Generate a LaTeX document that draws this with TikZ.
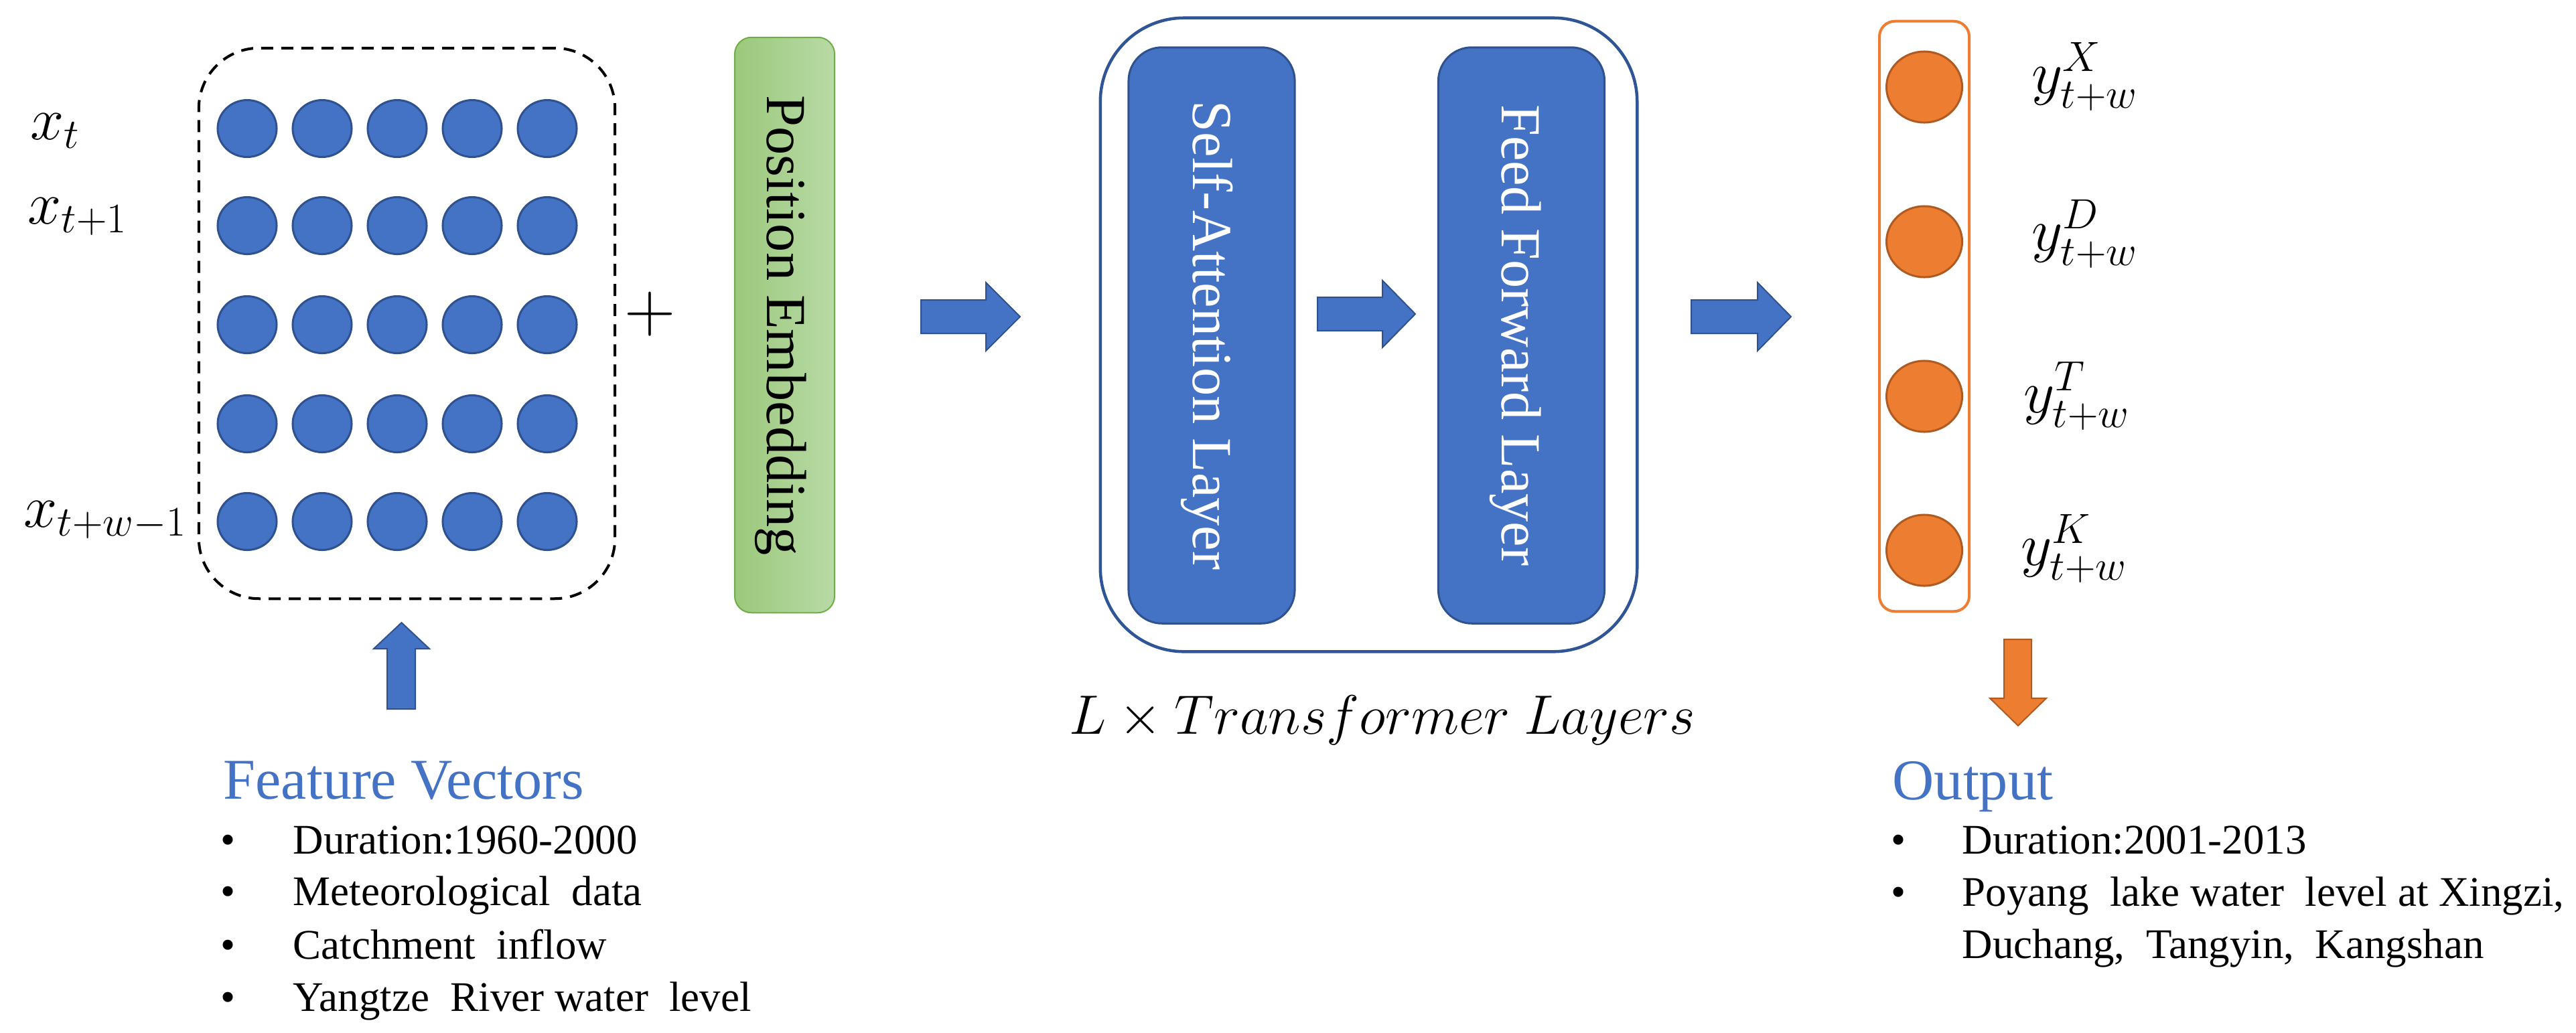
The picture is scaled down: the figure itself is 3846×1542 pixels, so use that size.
\RequirePackage{fix-cm}
\documentclass[tikz,border=0pt]{standalone}
\usepackage{fontspec}
\setmainfont{Liberation Serif}
\usetikzlibrary{shapes.geometric}
\definecolor{blueF}{HTML}{4472C4}
\definecolor{blueD}{HTML}{2F528F}
\definecolor{blueO}{HTML}{2F5597}
\definecolor{orF}{HTML}{ED7D31}
\definecolor{orD}{HTML}{AE5A21}
\definecolor{grL}{RGB}{156,200,124}
\definecolor{grR}{RGB}{184,218,166}
\definecolor{grD}{HTML}{70AD47}
\begin{document}
\begin{tikzpicture}[x=0.01cm,y=-0.01cm,
  bdot/.style={ellipse,draw=blueD,fill=blueF,line width=0.03cm,minimum width=0.88cm,minimum height=0.85cm,inner sep=0},
  odot/.style={ellipse,draw=orD,fill=orF,line width=0.03cm,minimum width=1.13cm,minimum height=1.06cm,inner sep=0},
  layerbox/.style={draw=blueD,fill=blueF,line width=0.03cm,rounded corners=0.5cm,minimum width=2.48cm,minimum height=8.6cm,inner sep=0},
  vtext/.style={rotate=-90,anchor=base,inner sep=0,font=\fontsize{24pt}{28pt}\selectfont},
  mlab/.style={anchor=base west,inner sep=0,font=\fontsize{25.6pt}{30pt}\selectfont},
  ttl/.style={anchor=base west,inner sep=0,text=blueF,font=\fontsize{24.5pt}{29pt}\selectfont},
  itm/.style={anchor=base west,inner sep=0,font=\fontsize{17.9pt}{21pt}\selectfont},
  bul/.style={anchor=base,inner sep=0,font=\fontsize{17.9pt}{21pt}\selectfont},
  barrow/.style={fill=blueF,draw=blueD,line width=0.02cm},
  oarrow/.style={fill=orF,draw=orD,line width=0.02cm},
]
\useasboundingbox (0,0) rectangle (3846,1542);

% input matrix
\node[draw=black,line width=0.04cm,dash pattern=on 0.18cm off 0.12cm,rounded corners=0.9cm,
      minimum width=6.21cm,minimum height=8.22cm,inner sep=0] (inbox) at (607.5,483) {};
\foreach \r/\yy in {1/192,2/337,3/485,4/633,5/779}
  \foreach \c/\xx in {1/369,2/481,3/593,4/705,5/817}
    \node[bdot] (b\r\c) at (\xx,\yy) {};

\node[mlab] (xt) at (45,208) {$x_t$};
\node[mlab] (xt1) at (41,334) {$x_{t+1}$};
\node[mlab] (xtw) at (35,787) {$x_{t+w-1}$};

\node[inner sep=0,font=\fontsize{30pt}{34pt}\selectfont] (plus) at (970,469) {$+$};

% position embedding
\node[draw=grD,line width=0.02cm,left color=grL,right color=grR,rounded corners=0.25cm,
      minimum width=1.49cm,minimum height=8.59cm,inner sep=0] (pe) at (1171.5,485.5) {};
\node[vtext] (petext) at (1145,486) {Position Embedding};

% transformer block
\node[draw=blueO,line width=0.045cm,rounded corners=1.25cm,minimum width=8.01cm,minimum height=9.46cm,inner sep=0] (tf) at (2043.5,500) {};
\node[layerbox] (sa) at (1809,501) {};
\node[layerbox] (ff) at (2271.5,501) {};
\node[vtext,text=white] (satext) at (1781,501) {Self-Attention Layer};
\node[vtext,text=white] (fftext) at (2242,501) {Feed Forward Layer};
\node[anchor=base,inner sep=0,font=\fontsize{23.6pt}{28pt}\selectfont] (tflabel) at (2064,1096) {$L\times Transformer\ Layers$};

% block arrows
\draw[barrow] (1375,448) -- (1472,448) -- (1472,422) -- (1523,473) -- (1472,524) -- (1472,498) -- (1375,498) -- cycle;
\draw[barrow] (1967,444) -- (2064,444) -- (2064,419) -- (2113,469) -- (2064,519) -- (2064,494) -- (1967,494) -- cycle;
\draw[barrow] (2525,448) -- (2624,448) -- (2624,422) -- (2674,473) -- (2624,524) -- (2624,498) -- (2525,498) -- cycle;
\draw[barrow] (578,1059) -- (578,969) -- (558,969) -- (599.5,930) -- (641,969) -- (620,969) -- (620,1059) -- cycle;
\draw[oarrow] (2992,955) -- (3033,955) -- (3033,1043) -- (3055,1043) -- (3013,1084) -- (2971,1043) -- (2992,1043) -- cycle;

% output column
\node[draw=orF,line width=0.04cm,rounded corners=0.23cm,minimum width=1.34cm,minimum height=8.81cm,inner sep=0] (outbox) at (2873,472.5) {};
\foreach \i/\yy in {1/130,2/361,3/592,4/822}
  \node[odot] (o\i) at (2873,\yy) {};
\node[mlab] (yX) at (3033,139) {$y^X_{t+w}$};
\node[mlab] (yD) at (3033,374) {$y^D_{t+w}$};
\node[mlab] (yT) at (3021,616) {$y^T_{t+w}$};
\node[mlab] (yK) at (3017,844) {$y^K_{t+w}$};

% feature vectors text
\node[ttl] (fv) at (333,1193) {Feature Vectors};
\foreach \i/\yy/\t in {1/1275/{Duration:1960-2000},2/1352/{Meteorological\ \ data},3/1432/{Catchment\ \ inflow},4/1510/{Yangtze\ \ River water\ \ level}}{
  \node[bul] (fb\i) at (341,\yy) {•};
  \node[itm] (ft\i) at (437,\yy) {\t};
}

% output text
\node[ttl] (out) at (2825,1194) {Output};
\node[bul] (ob1) at (2834,1275) {•};
\node[itm] (ot1) at (2929,1275) {Duration:2001-2013};
\node[bul] (ob2) at (2834,1353) {•};
\node[itm] (ot2) at (2929,1353) {Poyang\ \ lake\ water\ \ level at Xingzi,};
\node[itm] (ot3) at (2929,1431) {Duchang,\ \ Tangyin,\ \ Kangshan};
\end{tikzpicture}
\end{document}
